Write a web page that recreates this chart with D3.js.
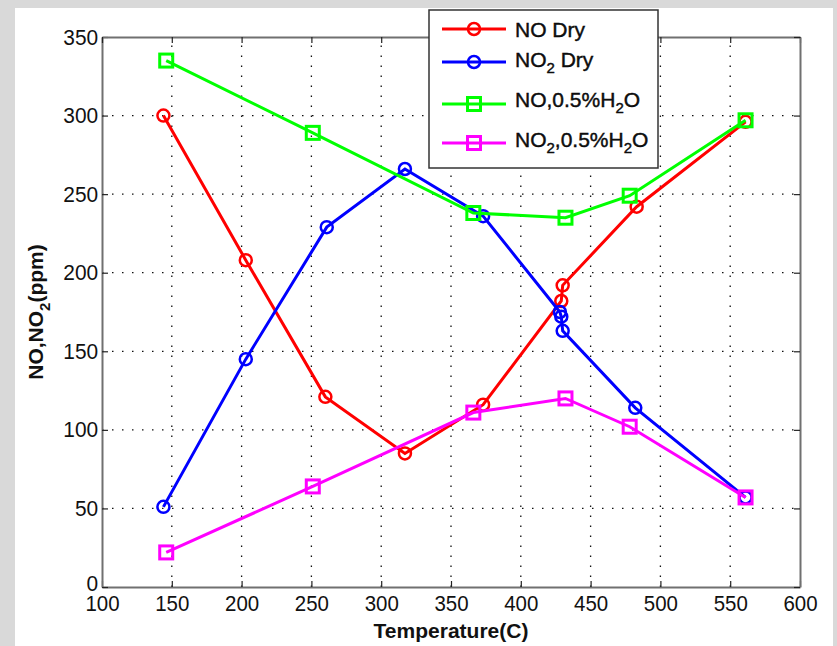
<!DOCTYPE html>
<html>
<head>
<meta charset="utf-8">
<script src="https://cdn.jsdelivr.net/npm/d3@7"></script>
<style>
  body { margin: 0; background: #dadada; }
  text { font-family: Arial, "Liberation Sans", sans-serif; fill: #111; }
</style>
</head>
<body>
<script>
// values
const noDryT  = [144, 203, 260, 317, 373, 429, 430, 483, 561];
const noDry   = [300, 208, 121, 85, 116, 182, 192, 242, 296];
const no2DryT = [144, 203, 261, 317, 373, 428, 429, 430, 482, 561];
const no2Dry  = [51, 145, 229, 266, 236, 175, 172, 163, 114, 57];
const noWetT  = [146, 251, 366, 432, 478, 561];
const noWet   = [335, 289, 238, 235, 249, 297];
const no2WetT = [146, 251, 366, 432, 478, 561];
const no2Wet  = [22, 64, 111, 120, 102, 57];

const xTicks = [100, 150, 200, 250, 300, 350, 400, 450, 500, 550, 600];
const yTicks = [0, 50, 100, 150, 200, 250, 300, 350];

const series = [
  { parts: [["NO"], [" Dry"]], color: "#ff0000", marker: "circle", t: noDryT, v: noDry },
  { parts: [["NO"], ["2", "sub"], [" Dry"]], color: "#0000ff", marker: "circle", t: no2DryT, v: no2Dry },
  { parts: [["NO,0.5%H"], ["2", "sub"], ["O"]], color: "#00ff00", marker: "square", t: noWetT, v: noWet },
  { parts: [["NO"], ["2", "sub"], [",0.5%H"], ["2", "sub"], ["O"]], color: "#ff00ff", marker: "square", t: no2WetT, v: no2Wet }
];

const W = 837, H = 646;
const svg = d3.select("body").append("svg").attr("width", W).attr("height", H);

// grey frame and white figure area
svg.append("rect").attr("width", W).attr("height", H).attr("fill", "#d9d9d9");
svg.append("rect").attr("x", 15).attr("y", 8).attr("width", 818).attr("height", H - 8).attr("fill", "#fff");

const x = d3.scaleLinear().domain([100, 600]).range([102, 800]);
const y = d3.scaleLinear().domain([0, 350]).range([587, 37]);

// dotted grid
const grid = svg.append("g").attr("stroke", "#111").attr("stroke-width", 1.3).attr("stroke-dasharray", "1.5,8.5");
grid.selectAll(".gx").data(xTicks.slice(1, -1)).join("line")
  .attr("x1", d => x(d)).attr("x2", d => x(d)).attr("y1", y(0)).attr("y2", y(350));
grid.selectAll(".gy").data(yTicks.slice(1, -1)).join("line")
  .attr("y1", d => y(d)).attr("y2", d => y(d)).attr("x1", x(100)).attr("x2", x(600));

function styleAxis(g) {
  g.select(".domain").attr("stroke", "#707070").attr("stroke-width", 2);
  g.selectAll(".tick line").attr("stroke", "#222").attr("stroke-width", 1.2);
  g.selectAll(".tick text").attr("font-size", 22).attr("fill", "#111")
    .attr("font-family", "Arial, 'Liberation Sans', sans-serif");
}

const xAxis = svg.append("g").attr("transform", `translate(0,${y(0)})`)
  .call(d3.axisBottom(x).tickValues(xTicks).tickSizeInner(-6).tickSizeOuter(0).tickPadding(8))
  .call(styleAxis);
xAxis.selectAll(".tick text").attr("transform", "scale(0.93,1)");

const yAxis = svg.append("g").attr("transform", `translate(${x(100)},0)`)
  .call(d3.axisLeft(y).tickValues(yTicks).tickSizeInner(-6).tickSizeOuter(0).tickPadding(4))
  .call(styleAxis);
yAxis.selectAll(".tick text").attr("transform", "scale(0.95,1)");
yAxis.selectAll(".tick text").filter(d => d === 0).attr("y", -4);

svg.append("g").attr("transform", `translate(0,${y(350)})`)
  .call(d3.axisTop(x).tickValues(xTicks).tickSizeInner(-6).tickSizeOuter(0).tickFormat(""))
  .call(styleAxis);
svg.append("g").attr("transform", `translate(${x(600)},0)`)
  .call(d3.axisRight(y).tickValues(yTicks).tickSizeInner(-6).tickSizeOuter(0).tickFormat(""))
  .call(styleAxis);

// axis titles
svg.append("text").attr("x", 451).attr("y", 638).attr("text-anchor", "middle")
  .attr("font-size", 21).attr("font-weight", "bold").text("Temperature(C)");

const yt = svg.append("text").attr("transform", "translate(43,312) rotate(-90)")
  .attr("text-anchor", "middle").attr("font-size", 21).attr("font-weight", "bold");
yt.append("tspan").text("NO,NO");
yt.append("tspan").attr("dy", 7).attr("font-size", 15).text("2");
yt.append("tspan").attr("dy", -7).text("(ppm)");

// series lines and markers
const line = d3.line().x(d => x(d[0])).y(d => y(d[1]));

function drawMarker(g, mk, color, cx, cy) {
  if (mk === "circle") {
    g.append("circle").attr("cx", cx).attr("cy", cy).attr("r", 6)
      .attr("fill", "none").attr("stroke", color).attr("stroke-width", 2.5);
  } else {
    g.append("rect").attr("x", cx - 6.5).attr("y", cy - 6.5).attr("width", 13).attr("height", 13)
      .attr("fill", "none").attr("stroke", color).attr("stroke-width", 3);
  }
}

series.forEach(s => {
  const pts = s.t.map((t, i) => [t, s.v[i]]);
  const g = svg.append("g");
  g.append("path").datum(pts).attr("d", line)
    .attr("fill", "none").attr("stroke", s.color).attr("stroke-width", 3);
  pts.forEach(p => drawMarker(g, s.marker, s.color, x(p[0]), y(p[1])));
});

// legend
const lg = svg.append("g");
lg.append("rect").attr("x", 429).attr("y", 10).attr("width", 229).attr("height", 158)
  .attr("fill", "#fff").attr("stroke", "#333").attr("stroke-width", 1.5);
const rowLine = [29, 62, 104, 143];
const rowBase = [37, 67, 107, 147];
series.forEach((s, i) => {
  lg.append("line").attr("x1", 442).attr("x2", 506).attr("y1", rowLine[i]).attr("y2", rowLine[i])
    .attr("stroke", s.color).attr("stroke-width", 3);
  drawMarker(lg, s.marker, s.color, 474, rowLine[i]);
  const t = lg.append("text").attr("x", 515).attr("y", rowBase[i]).attr("font-size", 21)
    .attr("fill", "#000").attr("stroke", "#000").attr("stroke-width", 0.4);
  let sub = false;
  s.parts.forEach(p => {
    const ts = t.append("tspan").text(p[0]);
    if (p[1] === "sub" && !sub) { ts.attr("dy", 6).attr("font-size", 15); sub = true; }
    else if (p[1] !== "sub" && sub) { ts.attr("dy", -6); sub = false; }
    else if (p[1] === "sub") ts.attr("font-size", 15);
  });
});
</script>
</body>
</html>
